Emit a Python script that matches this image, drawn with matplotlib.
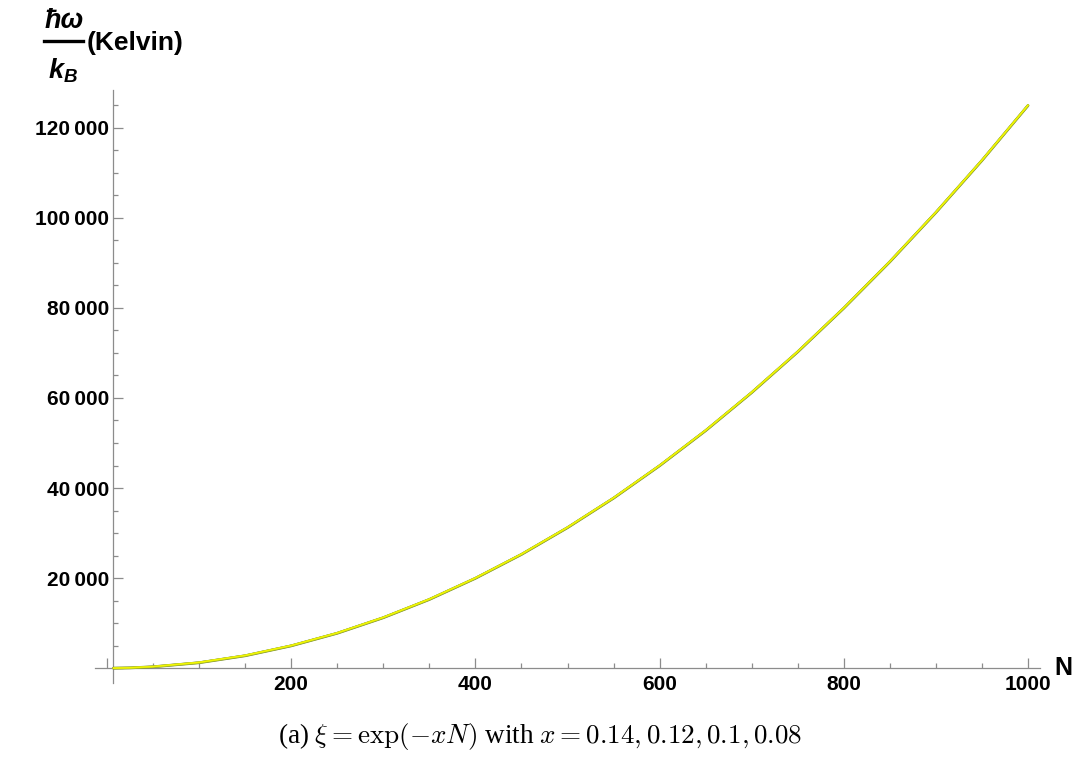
import matplotlib
matplotlib.use("Agg")
import matplotlib.pyplot as plt
from matplotlib.ticker import FixedLocator, FuncFormatter
from matplotlib.lines import Line2D

# ---- data ----
N_vals = [7, 25, 50, 100, 150, 200, 250, 300, 350, 400, 450, 500,
          550, 600, 650, 700, 750, 800, 850, 900, 950, 1000]
omega_x014 = [0, 60, 300, 1200, 2750, 4950, 7750, 11200, 15250, 19950, 25250, 31200,
              37750, 44950, 52750, 61200, 70250, 79950, 90250, 101200, 112750, 124950]
omega_x012 = [0, 70, 310, 1230, 2780, 4980, 7780, 11230, 15280, 19980, 25280, 31230,
              37780, 44980, 52780, 61230, 70280, 79980, 90280, 101230, 112780, 124980]
omega_x010 = [0, 80, 330, 1260, 2810, 5010, 7810, 11260, 15310, 20010, 25310, 31260,
              37810, 45010, 52810, 61260, 70310, 80010, 90310, 101260, 112810, 125010]
omega_x008 = [0, 90, 350, 1290, 2840, 5040, 7840, 11290, 15340, 20040, 25340, 31290,
              37840, 45040, 52840, 61290, 70340, 80040, 90340, 101290, 112840, 125040]

x_major = [0, 200, 400, 600, 800, 1000]
y_major = [0, 20000, 40000, 60000, 80000, 100000, 120000]

W, H = 1077, 768
fig = plt.figure(figsize=(W / 100, H / 100), dpi=100)
fig.patch.set_facecolor("white")

L, R, T, B = 95, 1040, 90, 683
ax = fig.add_axes([L / W, 1 - B / H, (R - L) / W, (B - T) / H])
ax.set_xlim(-13, 1013)
ax.set_ylim(-3300, 128400)

ax.plot(N_vals, omega_x014, color="#7a8a2e", lw=2.0, solid_capstyle="round", zorder=3)
ax.plot(N_vals, omega_x012, color="#a0b52c", lw=1.7, solid_capstyle="round", zorder=4)
ax.plot(N_vals, omega_x010, color="#d2e018", lw=1.3, solid_capstyle="round", zorder=5)
ax.plot(N_vals, omega_x008, color="#f4f700", lw=0.9, solid_capstyle="round", zorder=6)

for s in ["top", "right"]:
    ax.spines[s].set_visible(False)
ax.spines["left"].set_position(("data", 6.5))
ax.spines["bottom"].set_position(("data", 0))
for s in ["left", "bottom"]:
    ax.spines[s].set_color("#8c8c8c")
    ax.spines[s].set_linewidth(0.9)

ax.xaxis.set_major_locator(FixedLocator(x_major))
ax.xaxis.set_minor_locator(FixedLocator([v for v in range(50, 1001, 50) if v % 200]))
ax.yaxis.set_major_locator(FixedLocator(y_major))
ax.yaxis.set_minor_locator(FixedLocator([v for v in range(5000, 126000, 5000) if v % 20000]))

ax.xaxis.set_major_formatter(FuncFormatter(lambda v, p: "" if v == 0 else f"{int(v)}"))
ax.yaxis.set_major_formatter(FuncFormatter(
    lambda v, p: "" if v == 0 else f"{int(v):,}".replace(",", "\u2009")))

ax.tick_params(which="both", direction="in", color="#8c8c8c", width=0.9)
ax.tick_params(which="major", length=7)
ax.tick_params(which="minor", length=3.8)
ax.tick_params(axis="x", which="major", pad=5)
ax.tick_params(axis="y", which="major", pad=3)
for lab in ax.get_xticklabels() + ax.get_yticklabels():
    lab.set_fontfamily(["Liberation Sans", "DejaVu Sans"])
    lab.set_fontweight("bold")
    lab.set_fontsize(15)

def fx(px):
    return px / W

def fy(py):
    return 1 - py / H

bi = dict(fontfamily="Liberation Sans", fontweight="bold", fontstyle="italic")
fig.text(fx(64), fy(21), "\u0127\u03c9", ha="center", va="center", fontsize=19.5, **bi)
fig.add_artist(Line2D([fx(44), fx(83)], [fy(41), fy(41)], color="black", lw=2.4))
fig.text(fx(49), fy(71), "k", ha="left", va="center", fontsize=19.5, **bi)
fig.text(fx(64), fy(77), "B", ha="left", va="center", fontsize=13.5, **bi)
fig.text(fx(87), fy(43), "(Kelvin)", ha="left", va="center", fontsize=19,
         fontfamily="Liberation Sans", fontweight="bold")

fig.text(fx(1054), fy(668), "N", ha="left", va="center", fontsize=18,
         fontfamily="Liberation Sans", fontweight="bold")

plt.rcParams["mathtext.fontset"] = "cm"
fig.text(fx(540), fy(736), r"(a) $\xi = \exp(-xN)$ with $x = 0.14, 0.12, 0.1, 0.08$",
         ha="center", va="center", fontsize=19.5, fontfamily="Liberation Serif")

fig.savefig("out.png", dpi=100)
